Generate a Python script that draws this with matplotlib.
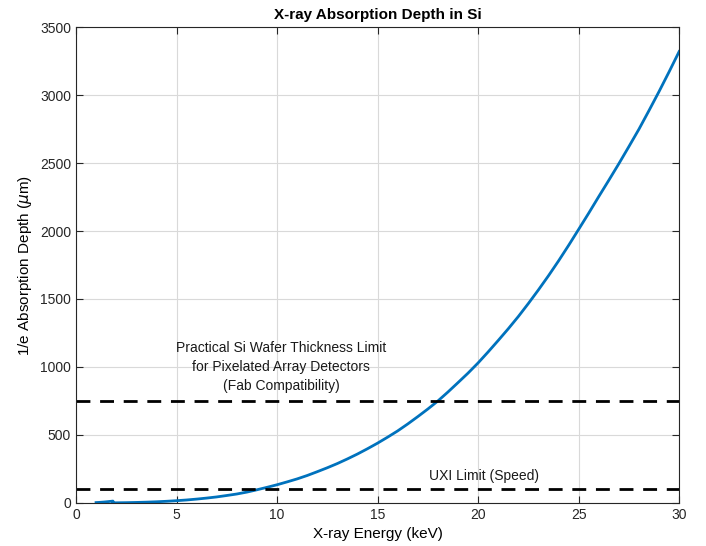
import numpy as np
import matplotlib
matplotlib.use("Agg")
import matplotlib.pyplot as plt

plt.rcParams.update({
    'font.family': ['Liberation Sans', 'DejaVu Sans'],
    'font.size': 10,
    'axes.edgecolor': '#262626',
    'xtick.color': '#262626',
    'ytick.color': '#262626',
})

# --- data ---
energy_kev = [1.0, 1.2, 1.4, 1.6, 1.8, 1.839, 1.84, 2.0, 2.5, 3.0, 3.5, 4.0, 4.5,
              5, 5.5, 6, 6.5, 7, 7.5, 8, 8.5, 9, 9.5, 10, 10.5, 11, 11.5, 12, 12.5,
              13, 13.5, 14, 14.5, 15, 15.5, 16, 16.5, 17, 17.5, 18, 18.5, 19, 19.5,
              20, 20.5, 21, 21.5, 22, 22.5, 23, 23.5, 24, 24.5, 25, 25.5, 26, 26.5,
              27, 27.5, 28, 28.5, 29, 29.5, 30]
depth_um = [2.9, 4.7, 7.0, 9.9, 13.3, 13.9, 1.0, 1.3, 2.3, 3.9, 6.0, 8.8, 12.4,
            16.8, 22, 28.5, 36, 44.5, 55, 66, 80, 97, 115, 134, 155, 177, 202, 230, 259,
            290, 324, 360, 399, 440, 484, 530, 581, 635, 691, 750, 816, 885, 955,
            1030, 1111, 1195, 1281, 1371, 1467, 1567, 1671, 1780, 1894, 2012, 2131, 2253, 2373,
            2495, 2621, 2749, 2886, 3026, 3171, 3320]
wafer_limit = 750
uxi_limit = 100
x_ticks = [0, 5, 10, 15, 20, 25, 30]
y_ticks = [0, 500, 1000, 1500, 2000, 2500, 3000, 3500]

fig = plt.figure(figsize=(7.06, 5.46), dpi=100)
ax = fig.add_axes([0.1076, 0.0788, 0.8544, 0.8717])

ax.plot(energy_kev, depth_um, color='#0072BD', linewidth=2)
ax.axhline(wafer_limit, color='black', linestyle=(0, (5, 3.5)), linewidth=2)
ax.axhline(uxi_limit, color='black', linestyle=(0, (5, 3.5)), linewidth=2)

ax.text(10.2, 1000, 'Practical Si Wafer Thickness Limit\nfor Pixelated Array Detectors\n(Fab Compatibility)',
        ha='center', va='center', fontsize=10, linespacing=1.45, color='#1a1a1a')
ax.text(20.3, 200, 'UXI Limit (Speed)', ha='center', va='center', fontsize=10, color='#1a1a1a')

ax.set_xlim(0, 30)
ax.set_ylim(0, 3500)
ax.set_xticks(x_ticks)
ax.set_yticks(y_ticks)
ax.grid(True, color='#d9d9d9', linewidth=0.8)
ax.set_axisbelow(True)
ax.tick_params(direction='in', top=True, right=True, length=5, labelsize=10)

ax.set_title('X-ray Absorption Depth in Si', fontweight='bold', fontsize=11)
ax.set_xlabel('X-ray Energy (keV)', fontsize=11)
ax.set_ylabel(r'1/e Absorption Depth ($\mu$m)', fontsize=11)

fig.savefig('out.png', dpi=100)
